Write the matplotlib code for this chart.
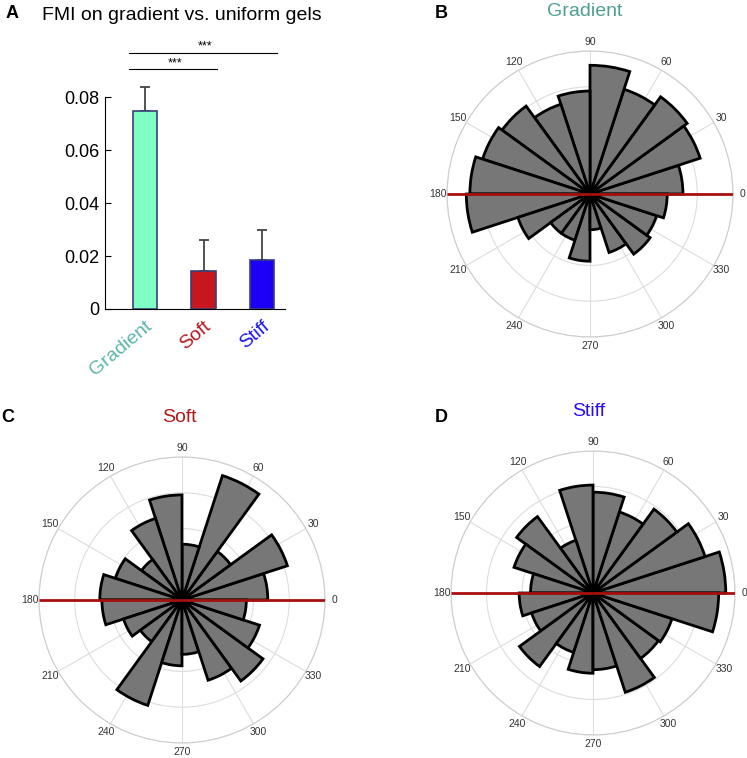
import numpy as np
import matplotlib
matplotlib.use("Agg")
import matplotlib.pyplot as plt

plt.rcParams['font.family'] = ['Liberation Sans', 'DejaVu Sans']

# panel A: FMI means and upper error
groups = ["Gradient", "Soft", "Stiff"]
fmi_mean = [0.075, 0.0145, 0.0185]
fmi_err = [0.009, 0.0115, 0.0113]

# rose histograms: 20 bins of 18 deg, bar length as fraction of outer ring
bin_edges_deg = np.arange(0, 361, 18)
rose_gradient = [0.65, 0.81, 0.84, 0.77, 0.90, 0.72, 0.66, 0.76, 0.79, 0.84,
                 0.865, 0.53, 0.34, 0.34, 0.47, 0.25, 0.43, 0.52, 0.49, 0.54]
rose_soft = [0.60, 0.775, 0.42, 0.915, 0.39, 0.735, 0.60, 0.35, 0.49, 0.575,
             0.56, 0.43, 0.36, 0.775, 0.46, 0.38, 0.59, 0.70, 0.57, 0.45]
rose_stiff = [0.935, 0.83, 0.73, 0.60, 0.71, 0.76, 0.39, 0.665, 0.585, 0.44,
              0.52, 0.455, 0.64, 0.44, 0.565, 0.54, 0.735, 0.57, 0.585, 0.885]

fill_cols = ['#7fffc4', '#c8161e', '#1c00f5']
label_cols = ['#5bb5a9', '#b5171e', '#1b14f0']
W, H = 747, 758

fig = plt.figure(figsize=(W / 100, H / 100), dpi=100)


def px_axes(x0, y0, x1, y1, **kw):
    # axes from pixel box (top-left origin)
    return fig.add_axes([x0 / W, 1 - y1 / H, (x1 - x0) / W, (y1 - y0) / H], **kw)


# ---------- A ----------
ax = px_axes(105, 97.3, 285, 309)
x = np.arange(len(groups))
ax.bar(x, fmi_mean, width=0.41, color=fill_cols, edgecolor='#38407a', lw=1.2, zorder=3)
ax.errorbar(x, fmi_mean, yerr=[[0] * 3, fmi_err], fmt='none', ecolor='#444444',
            elinewidth=1.3, capsize=3.5, capthick=1.3, clip_on=False, zorder=2)
ax.set_xlim(-0.68, 2.39)
ax.set_ylim(0, 0.08)
ax.set_yticks([0, 0.02, 0.04, 0.06, 0.08])
ax.set_yticklabels(['0', '0.02', '0.04', '0.06', '0.08'])
ax.tick_params(axis='y', direction='in', length=4, labelsize=13, pad=4)
ax.set_xticks(x)
ax.set_xticklabels(groups, rotation=40, ha='right', va='top', rotation_mode='anchor', fontsize=14)
for t, c in zip(ax.get_xticklabels(), label_cols):
    t.set_color(c)
ax.tick_params(axis='x', length=0, pad=6)
ax.spines['top'].set_visible(False)
ax.spines['right'].set_visible(False)

# significance bars
ax.plot([-0.27, 2.26], [0.0969, 0.0969], color='k', lw=0.8, clip_on=False)
ax.plot([-0.27, 1.23], [0.0906, 0.0906], color='k', lw=0.8, clip_on=False)
ax.text(1.03, 0.0969, '***', ha='center', va='bottom', fontsize=9)
ax.text(0.51, 0.0906, '***', ha='center', va='bottom', fontsize=9)

fig.text(42 / W, 1 - 15 / H, 'FMI on gradient vs. uniform gels', fontsize=14, va='center')


# ---------- roses ----------
def rose(cx, cy, R, vals, title, tcol, tx, ty):
    pa = px_axes(cx - R, cy - R, cx + R, cy + R, projection='polar')
    theta = np.deg2rad(bin_edges_deg[:-1] + 9)
    pa.bar(theta, vals, width=np.deg2rad(18), bottom=0, color='#777777',
           edgecolor='black', lw=2, zorder=3)
    pa.plot([0, 0], [0, 1], color='#a81010', lw=2, zorder=4, solid_capstyle='butt')
    pa.plot([np.pi, np.pi], [0, 1], color='#a81010', lw=2, zorder=4, solid_capstyle='butt')
    pa.set_ylim(0, 1)
    pa.set_yticks([0.25, 0.5, 0.75, 1.0])
    pa.set_yticklabels([])
    pa.set_thetagrids(np.arange(0, 360, 30), [str(a) for a in range(0, 360, 30)])
    pa.tick_params(axis='x', labelsize=7.5, labelcolor='#333333', pad=-4)
    pa.grid(color='#dddddd', lw=0.8)
    pa.spines['polar'].set_color('#cccccc')
    pa.spines['polar'].set_linewidth(0.8)
    pa.set_axisbelow(True)
    fig.text(tx / W, 1 - ty / H, title, color=tcol, fontsize=14, ha='center', va='center')


rose(590, 194, 143, rose_gradient, 'Gradient', '#4f9e94', 585, 12)
rose(182, 600, 143, rose_soft, 'Soft', '#b01a1a', 179, 418)
rose(593, 593, 142, rose_stiff, 'Stiff', '#2a10f0', 589, 412)

# panel letters
for lab, px, py in [('A', 12, 13), ('B', 441, 13), ('C', 8, 417), ('D', 441, 418)]:
    fig.text(px / W, 1 - py / H, lab, fontsize=13, fontweight='bold', ha='center', va='center')

fig.savefig('out.png', dpi=100)
